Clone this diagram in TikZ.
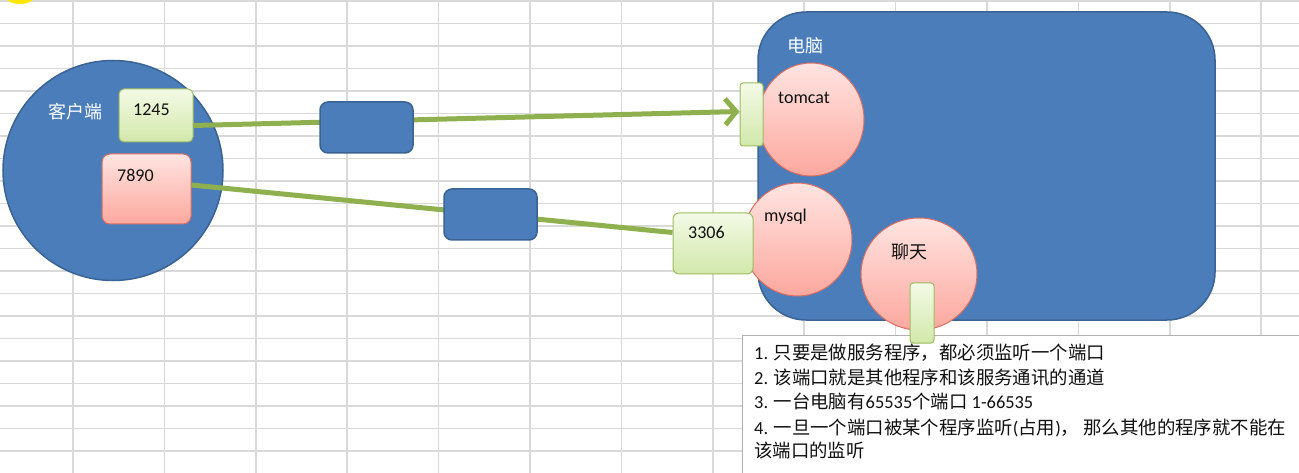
\documentclass[tikz,border=0pt]{standalone}
\usepackage{fontspec}
\setmainfont{Carlito}
\newfontfamily\cjk{Noto Sans CJK SC}
\usetikzlibrary{shapes.geometric,arrows.meta}
\definecolor{gridc}{HTML}{D9D9D9}
\definecolor{blueF}{HTML}{4A7DBA}
\definecolor{blueD}{HTML}{3A6394}
\definecolor{connc}{HTML}{8EB04F}
\definecolor{greenT}{HTML}{F3FAE6}
\definecolor{greenB}{HTML}{D2E8AA}
\definecolor{greenD}{HTML}{9DBB61}
\definecolor{pinkT}{HTML}{FFE4E1}
\definecolor{pinkB}{HTML}{FCA89E}
\definecolor{redD}{HTML}{DB6E62}
\definecolor{txt}{HTML}{111111}
\definecolor{boxD}{HTML}{B0B0B0}
\tikzset{
  bluebox/.style={draw=blueD, line width=1.5pt, fill=blueF, rounded corners=8pt, inner sep=0pt},
  greenbox/.style={draw=greenD, line width=1pt, top color=greenT, bottom color=greenB, rounded corners=5pt, inner sep=0pt},
  pinkbox/.style={draw=redD, line width=1pt, top color=pinkT, bottom color=pinkB, rounded corners=8pt, inner sep=0pt},
  pinkell/.style={ellipse, draw=redD, line width=1pt, top color=pinkT, bottom color=pinkB, inner sep=0pt},
  conn/.style={draw=connc, line width=5pt},
  lbl/.style={anchor=base west, inner sep=0pt, font=\fontsize{18pt}{20pt}\selectfont, text=txt},
  wlbl/.style={anchor=base west, inner sep=0pt, font=\fontsize{18pt}{20pt}\selectfont\cjk, text=white},
  note/.style={anchor=base west, inner sep=0pt, font=\fontsize{18.4pt}{20pt}\selectfont, text=txt}
}
\begin{document}
\begin{tikzpicture}[x=1pt,y=-1pt]
\useasboundingbox (0,0) rectangle (1299,473);
\clip (0,0) rectangle (1299,473);
\fill[white] (0,0) rectangle (1299,473);
% spreadsheet grid
\foreach \k in {0,...,13} \draw[gridc, line width=1.5pt] ({73+91.4*\k},0) -- ({73+91.4*\k},473);
\foreach \k in {0,...,19} \draw[gridc, line width=1.5pt] (0,{23.3+22.5*\k}) -- (1299,{23.3+22.5*\k});
\draw[gridc, line width=1.5pt] (0,1) -- (1299,1);
% cursor highlight
\fill[yellow!90!orange] (20,-4) ellipse (15pt and 8pt);

% client
\node[circle, draw=blueD, line width=1.5pt, fill=blueF, minimum size=220pt, inner sep=0pt] (client) at (113,170.5) {};
\node[wlbl] (clientlbl) at (48,118.8) {客户端};
\node[greenbox, minimum width=74pt, minimum height=53pt] (p1245) at (156,115.5) {};
\node[lbl] (t1245) at (133,116) {1245};
\node[pinkbox, minimum width=89pt, minimum height=70pt] (p7890) at (146.5,189) {};
\node[lbl] (t7890) at (117,182) {7890};

% computer
\node[draw=blueD, line width=1.5pt, fill=blueF, rounded corners=48pt, minimum width=457pt, minimum height=308pt, inner sep=0pt] (pc) at (986.5,166) {};
\node[wlbl] (pclbl) at (787,52.8) {电脑};
\node[pinkell, minimum width=106pt, minimum height=113pt] (tomcat) at (811,119.5) {};
\node[lbl] (tomcatlbl) at (778,103.5) {tomcat};
\node[pinkell, minimum width=109pt, minimum height=113pt] (mysql) at (797.5,239.5) {};
\node[lbl] (mysqllbl) at (764,221.5) {mysql};
\node[pinkell, minimum width=116pt, minimum height=112pt] (chat) at (919,274) {};
\node[lbl, font=\fontsize{18pt}{20pt}\selectfont\cjk] (chatlbl) at (891,258.8) {聊天};

% connectors
\coordinate (c1s) at ([yshift=-10pt]p1245.east);
\coordinate (c2s) at ([yshift=4pt]p7890.east);
\node[greenbox, rounded corners=3pt, minimum width=23pt, minimum height=63pt] (tport) at (751.5,114.5) {};
\node[greenbox, rounded corners=6pt, minimum width=80pt, minimum height=61pt] (p3306) at (713,243.5) {};
\node[lbl] (t3306) at (688,239) {3306};
\draw[conn, -{Straight Barb[length=11pt,width=26pt]}] (c1s) -- ([yshift=3pt]tport.west);
\draw[conn] (c2s) -- ([yshift=11pt]p3306.west);
\node[bluebox, minimum width=93pt, minimum height=51pt] (r1) at (366.5,127.5) {};
\node[bluebox, minimum width=93pt, minimum height=51pt] (r2) at (490.5,214.5) {};

% notes box
\node[draw=boxD, line width=1pt, fill=white, minimum width=580pt, minimum height=160pt, anchor=north west, inner sep=0pt] (notes) at (742,335) {};
\node[greenbox, rounded corners=3pt, minimum width=24pt, minimum height=60pt] (cport) at (922,313) {};
\node[note] (n1) at (754,359) {1. {\cjk 只要是做服务程序，都必须监听一个端口}};
\node[note] (n2) at (754,384) {2. {\cjk 该端口就是其他程序和该服务通讯的通道}};
\node[note] (n3) at (754,408) {3. {\cjk 一台电脑有}65535{\cjk 个端口} 1-66535};
\node[note] (n4) at (754,434) {4. {\cjk 一旦一个端口被某个程序监听}({\cjk 占用}){\cjk ，} {\cjk 那么其他的程序就不能在}};
\node[note] (n5) at (754,457) {{\cjk 该端口的监听}};
\end{tikzpicture}
\end{document}
